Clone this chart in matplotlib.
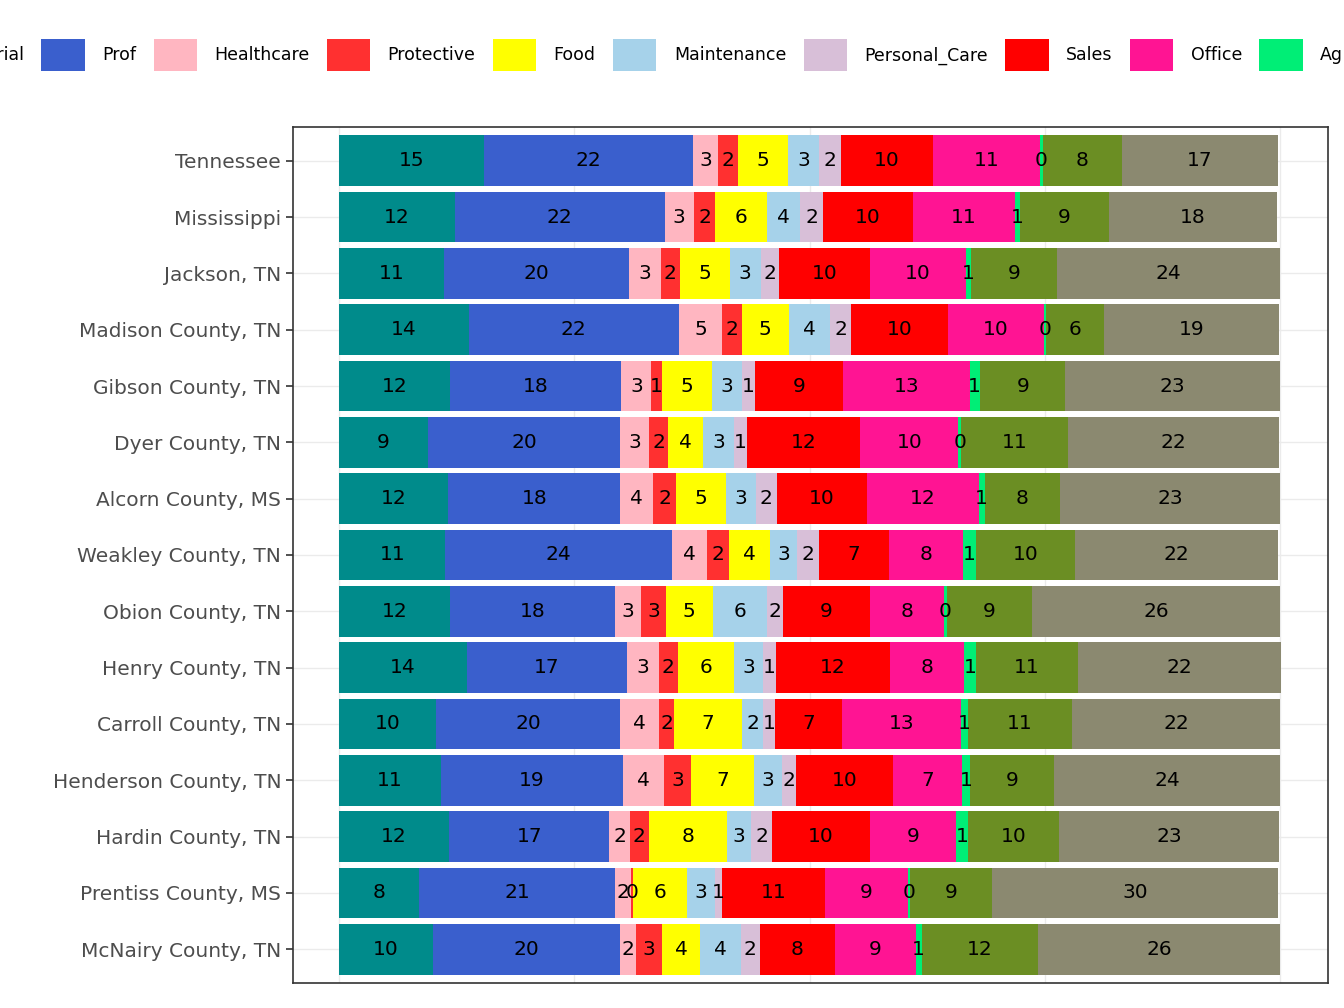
import matplotlib
matplotlib.use("Agg")
import matplotlib.pyplot as plt
from matplotlib.patches import Patch
import numpy as np

regions = ["Tennessee", "Mississippi", "Jackson, TN", "Madison County, TN", "Gibson County, TN",
           "Dyer County, TN", "Alcorn County, MS", "Weakley County, TN", "Obion County, TN",
           "Henry County, TN", "Carroll County, TN", "Henderson County, TN", "Hardin County, TN",
           "Prentiss County, MS", "McNairy County, TN"]
categories = ["Managerial", "Prof", "Healthcare", "Protective", "Food", "Maintenance",
              "Personal_Care", "Sales", "Office", "Ag", "Construction", "Production"]
Managerial = [15.4, 12.3, 11.1, 13.8, 11.8, 9.4, 11.6, 11.3, 11.8, 13.6, 10.3, 10.8, 11.7, 8.5, 10.0]
Prof = [22.2, 22.3, 19.7, 22.3, 18.2, 20.5, 18.3, 24.1, 17.5, 17.0, 19.6, 19.4, 17.0, 20.8, 19.9]
Healthcare = [2.7, 3.1, 3.4, 4.6, 3.2, 3.0, 3.5, 3.7, 2.8, 3.4, 4.1, 4.3, 2.2, 1.7, 1.7]
Protective = [2.1, 2.3, 2.0, 2.1, 1.1, 2.1, 2.4, 2.3, 2.6, 2.0, 1.6, 2.9, 2.0, 0.2, 2.7]
Food = [5.3, 5.5, 5.3, 5.0, 5.3, 3.7, 5.3, 4.4, 5.0, 6.0, 7.2, 6.7, 8.3, 5.8, 4.1]
Maintenance = [3.3, 3.5, 3.3, 4.4, 3.2, 3.3, 3.2, 2.9, 5.8, 3.1, 2.3, 3.0, 2.6, 2.9, 4.3]
Personal_Care = [2.3, 2.4, 2.0, 2.2, 1.4, 1.3, 2.2, 2.3, 1.7, 1.3, 1.2, 1.5, 2.2, 0.8, 2.0]
Sales = [9.8, 9.6, 9.6, 10.3, 9.4, 12.1, 9.6, 7.4, 9.2, 12.1, 7.2, 10.3, 10.4, 10.9, 8.0]
Office = [11.4, 10.8, 10.2, 10.2, 13.4, 10.4, 11.9, 7.9, 7.9, 7.9, 12.6, 7.3, 9.2, 8.9, 8.6]
Ag = [0.3, 0.6, 0.6, 0.2, 1.1, 0.3, 0.6, 1.4, 0.3, 1.3, 0.7, 0.8, 1.2, 0.2, 0.6]
Construction = [8.4, 9.4, 9.1, 6.2, 9.1, 11.4, 8.0, 10.5, 9.0, 10.8, 11.1, 9.0, 9.7, 8.7, 12.4]
Production = [16.6, 17.9, 23.7, 18.6, 22.8, 22.4, 23.4, 21.6, 26.4, 21.6, 22.1, 24.0, 23.4, 30.4, 25.7]
colors = ["#008B8B", "#3A5FCD", "#FFB6C1", "#FF3030", "#FFFF00", "#A6D2EA",
          "#D8BFD8", "#FF0000", "#FF1493", "#00EE76", "#6B8E23", "#8B8970"]

data = np.array([Managerial, Prof, Healthcare, Protective, Food, Maintenance, Personal_Care,
                 Sales, Office, Ag, Construction, Production])

fig = plt.figure(figsize=(13.44, 10.08), dpi=100)
ax = fig.add_axes([293/1344, 1-983/1008, (1328-293)/1344, (983-127)/1008])
y = np.arange(len(regions))
left = np.zeros(len(regions))
for i, cat in enumerate(categories):
    ax.barh(y, data[i], left=left, color=colors[i], height=0.9, zorder=2)
    for j in range(len(regions)):
        ax.text(left[j] + data[i][j] / 2, y[j], f"{int(round(data[i][j]))}", ha="center",
                va="center", fontsize=14.5, color="black", zorder=3)
    left += data[i]

ax.set_xlim(-4.9, 105.1)
ax.set_ylim(len(regions) - 0.4, -0.6)
ax.set_yticks(y)
ax.set_yticklabels(regions, fontsize=14.5, color="#4D4D4D")
ax.set_xticks([0, 25, 50, 75, 100])
ax.set_xticklabels([])
ax.tick_params(axis="x", length=0)
ax.tick_params(axis="y", length=5, width=1.2, color="#333333")
ax.grid(axis="x", color="#EBEBEB", lw=1, zorder=0)
for yy in y:
    ax.axhline(yy, color="#EBEBEB", lw=1, zorder=0)
for s in ax.spines.values():
    s.set_color("#333333"); s.set_linewidth(1.2)

handles = [Patch(facecolor=c, edgecolor="none") for c in colors]
fig.legend(handles, categories, loc="center", bbox_to_anchor=(0.584, 1-55/1008), ncol=12,
           frameon=False, fontsize=12.5, handlelength=2.5, handleheight=2.5,
           columnspacing=1.0, handletextpad=1.0)
fig.savefig("out.png", dpi=100)
